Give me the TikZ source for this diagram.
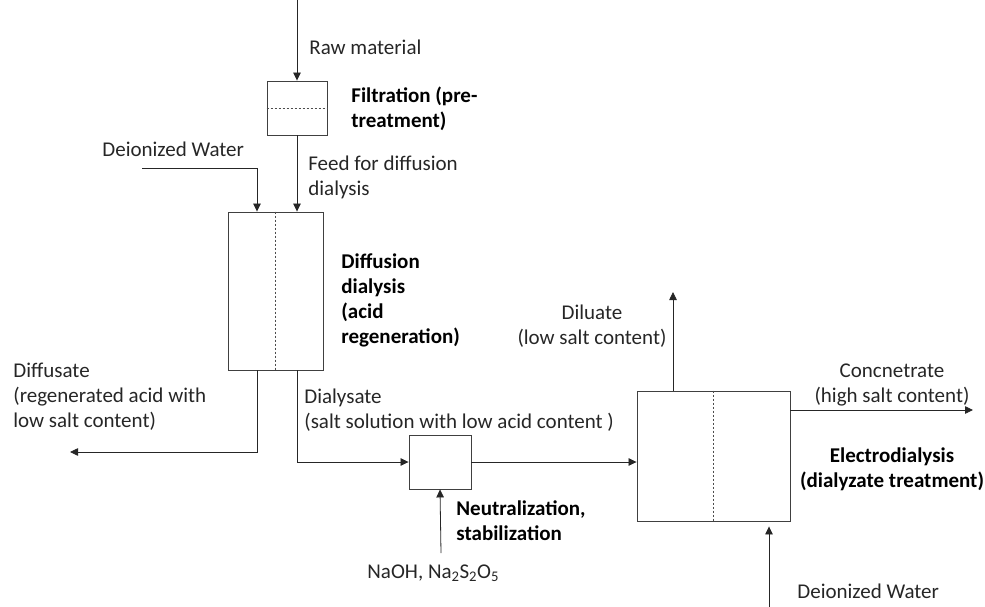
\documentclass[tikz,border=0pt]{standalone}
\usepackage{fontspec}
\setmainfont{Carlito}
\usetikzlibrary{arrows.meta,calc}
\begin{document}
\begin{tikzpicture}[x=1pt,y=-1pt,
  line width=0.8pt,
  flow/.style={draw=black!85,-{Triangle[length=8pt,width=7.5pt]}},
  unit/.style={draw=black!75,line width=0.9pt,inner sep=0pt,fill=white},
  membrane/.style={draw=black!70,dashed,dash pattern=on 2.5pt off 1.5pt,line width=0.6pt},
  % labels are placed by the baseline of their last line
  lbl/.style={font=\fontsize{21}{25}\selectfont,inner sep=0pt,align=left,anchor=base west,text=black!85},
  clbl/.style={lbl,align=center,anchor=base},
  blbl/.style={lbl,font=\fontsize{21}{25}\selectfont\bfseries,text=black},
  cblbl/.style={blbl,align=center,anchor=base}]
\useasboundingbox (0,0) rectangle (985,607);

% process units
\node[unit,minimum width=60pt,minimum height=54pt] (filt) at (297,108) {};
\node[unit,minimum width=95pt,minimum height=158pt] (dd) at (275.5,291) {};
\node[unit,minimum width=62pt,minimum height=54pt] (neut) at (440,462) {};
\node[unit,minimum width=153pt,minimum height=130pt] (ed) at (713.5,456) {};

% membranes
\draw[membrane] (filt.west) -- (filt.east);
\draw[membrane] (dd.north) -- (dd.south);
\draw[membrane] (ed.north) -- (ed.south);

% ports and free ends
\coordinate (rawin) at (297,0);
\coordinate (dwin) at (142,168);
\coordinate (ddw) at ($(dd.north)+(-18.5,0)$);
\coordinate (ddf) at ($(dd.north)+(21.5,0)$);
\coordinate (ddout1) at ($(dd.south)+(-18.5,0)$);
\coordinate (ddout2) at ($(dd.south)+(21.5,0)$);
\coordinate (diffend) at (70,452);
\coordinate (naoh) at (441,553);
\coordinate (edtop) at ($(ed.north)+(-40.5,0)$);
\coordinate (dilend) at (673,292);
\coordinate (edconc) at (790,410);
\coordinate (concend) at (973,410);
\coordinate (edbot) at ($(ed.south)+(55.5,0)$);
\coordinate (dwbot) at (769,607);

% streams
\draw[flow] (rawin) -- (filt.north);
\draw[flow] (filt.south) -- (ddf);
\draw[flow] (dwin) -| (ddw);
\draw[flow] (ddout1) |- (diffend);
\draw[flow] (ddout2) |- (neut.west);
\draw[flow] (naoh) -- (neut.south);
\draw[flow] (neut.east) -- (neut.east -| ed.west);
\draw[flow] (edtop) -- (dilend);
\draw[flow] (edconc) -- (concend);
\draw[flow,shorten >=5pt] (dwbot) -- (edbot);

% stream labels
\node[lbl] (lraw) at (309,55) {Raw material};
\node[lbl] (ldw1) at (102,157) {Deionized Water};
\node[lbl] (lfeed) at (308,195) {Feed for diffusion\\dialysis};
\node[lbl] (ldiff) at (13,427) {Diffusate\\(regenerated acid with\\low salt content)};
\node[lbl] (ldial) at (304,428) {Dialysate\\(salt solution with low acid content )};
\node[lbl] (lnaoh) at (367,578) {NaOH, Na\textsubscript{2}S\textsubscript{2}O\textsubscript{5}};
\node[clbl] (ldil) at (592,344) {Diluate\\(low salt content)};
\node[clbl] (lconc) at (892,402) {Concnetrate\\(high salt content)};
\node[lbl] (ldw2) at (797,598) {Deionized Water};

% unit labels
\node[blbl] (tfilt) at (351,128) {Filtration (pre-\\treatment)};
\node[blbl] (tdd) at (341,343) {Diffusion\\dialysis\\(acid\\regeneration)};
\node[blbl] (tneut) at (456,540) {Neutralization,\\stabilization};
\node[cblbl] (ted) at (892,487) {Electrodialysis\\(dialyzate treatment)};
\end{tikzpicture}
\end{document}
